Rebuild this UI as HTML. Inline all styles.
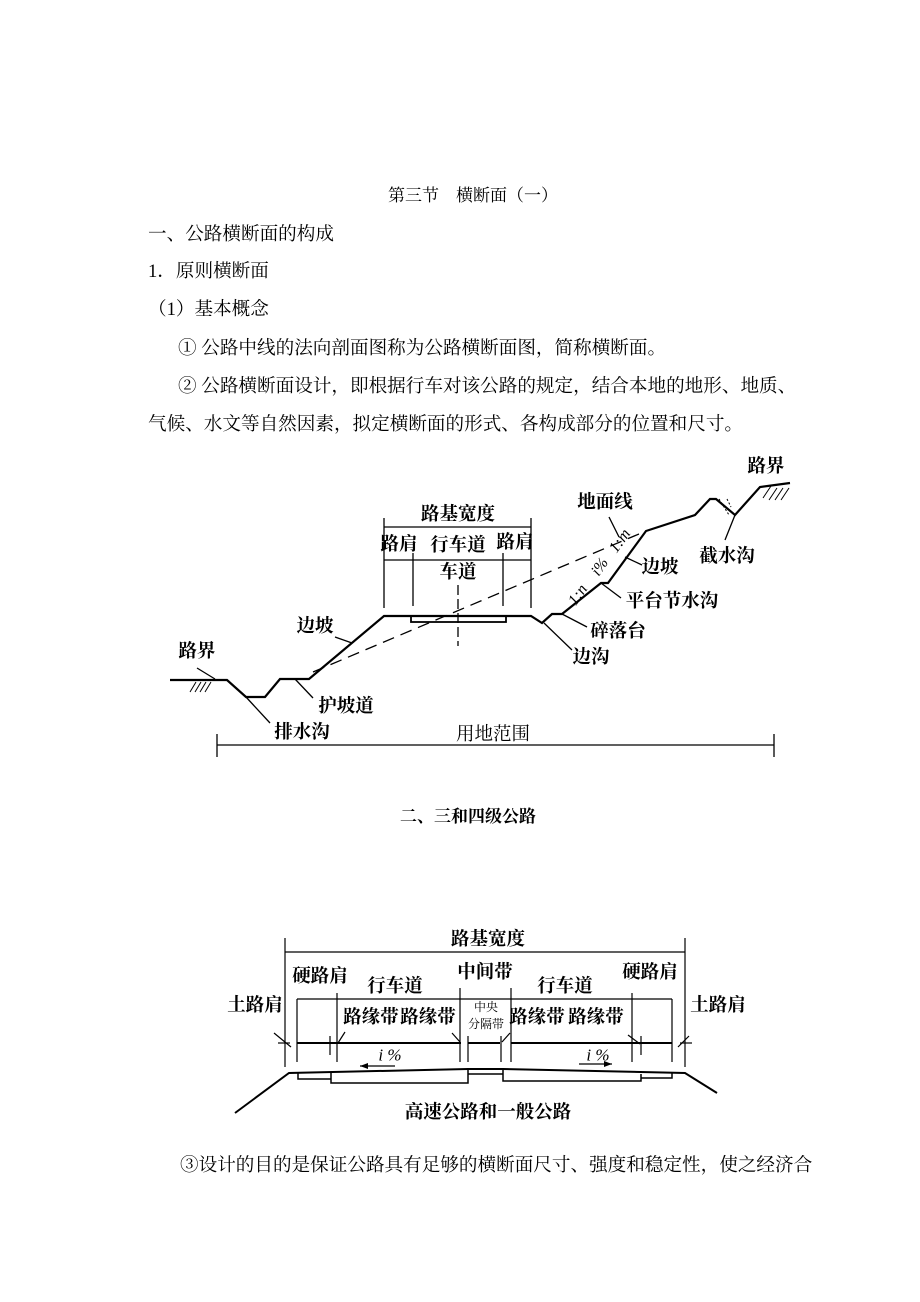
<!DOCTYPE html>
<html><head><meta charset="utf-8"><style>
html,body{margin:0;padding:0;background:#fff;}
svg{display:block;}
.b{font-family:"Liberation Serif","Noto Serif CJK SC",serif;font-size:18.6px;fill:#000;}
.d{font-family:"Liberation Serif","Noto Serif CJK SC",serif;font-size:18.5px;font-weight:bold;fill:#000;text-anchor:middle;dominant-baseline:central;}
</style></head><body>
<svg width="920" height="1302" viewBox="0 0 920 1302" xmlns="http://www.w3.org/2000/svg">
<g class="b">
<text x="388" y="201" font-size="17">第三节　横断面（一）</text>
<text x="148" y="240">一、公路横断面的构成</text>
<text x="148" y="277">1．原则横断面</text>
<text x="148" y="315">（1）基本概念</text>
<text x="178" y="354">①  公路中线的法向剖面图称为公路横断面图，简称横断面。</text>
<text x="178" y="392">②   公路横断面设计，即根据行车对该公路的规定，结合本地的地形、地质、</text>
<text x="148" y="430">气候、水文等自然因素，拟定横断面的形式、各构成部分的位置和尺寸。</text>
<text x="400" y="822" font-weight="bold" font-size="17">二、三和四级公路</text>
<text x="180" y="1171">③设计的目的是保证公路具有足够的横断面尺寸、强度和稳定性，使之经济合</text>
</g>

<!-- Diagram 1 -->
<g fill="none" stroke="#000" stroke-width="2.2">
<polyline points="170,680 227,680 246,697 265,697 280,679 309,679 384,616 531,616 542,623 552,614 562,614 601,583 608,583 646,531 695,515 710,499 716,499 735,515 760,487 790,483"/>
<rect x="411" y="616" width="95" height="6" stroke-width="1.8"/>
</g>
<g fill="none" stroke="#000" stroke-width="1.3">
<line x1="384" y1="518" x2="384" y2="608"/>
<line x1="531" y1="518" x2="531" y2="608"/>
<line x1="384" y1="527" x2="531" y2="527"/>
<line x1="384" y1="560" x2="531" y2="560"/>
<line x1="413" y1="553" x2="413" y2="606"/>
<line x1="503" y1="553" x2="503" y2="606"/>
<line x1="458" y1="585" x2="458" y2="646" stroke-dasharray="10,4"/>
<line x1="313" y1="672" x2="646" y2="531" stroke-dasharray="12,7"/>
<line x1="335" y1="637" x2="352" y2="643"/>
<line x1="197" y1="668" x2="215" y2="679"/>
<line x1="246" y1="697" x2="270" y2="723"/>
<line x1="295" y1="679" x2="313" y2="698"/>
<line x1="609" y1="517" x2="619" y2="537"/>
<line x1="625" y1="557" x2="642" y2="565"/>
<line x1="601" y1="583" x2="621" y2="598"/>
<line x1="562" y1="614" x2="587" y2="627"/>
<line x1="544" y1="623" x2="572" y2="650"/>
<line x1="735" y1="515" x2="725" y2="540"/>
<line x1="217" y1="745" x2="774" y2="745"/>
<line x1="217" y1="734" x2="217" y2="757"/>
<line x1="774" y1="734" x2="774" y2="757"/>
<path d="M190,692 l6,-10 M195,692 l6,-10 M200,692 l6,-10 M205,692 l6,-10" stroke-width="1"/>
<path d="M763,498 l8,-12 M769,500 l8,-12 M775,500 l8,-12 M781,500 l8,-12" stroke-width="1"/>
<path d="M719,499 l10,16 M727,499 l4,8" stroke-dasharray="2,2" stroke-width="1"/>
</g>
<g class="d">
<text x="458" y="515">路基宽度</text>
<text x="399" y="545">路肩</text>
<text x="458" y="546">行车道</text>
<text x="515" y="543">路肩</text>
<text x="458" y="573">车道</text>
<text x="315" y="627">边坡</text>
<text x="197" y="652">路界</text>
<text x="302" y="733">排水沟</text>
<text x="346" y="707">护坡道</text>
<text x="493" y="735" font-weight="normal">用地范围</text>
<text x="605" y="503">地面线</text>
<text x="660" y="568">边坡</text>
<text x="672" y="602">平台节水沟</text>
<text x="618" y="632">碎落台</text>
<text x="591" y="658">边沟</text>
<text x="727" y="557">截水沟</text>
<text x="766" y="467">路界</text>
<text x="578" y="595" font-size="16" font-style="italic" font-weight="normal" transform="rotate(-55 578 595)">1:n</text>
<text x="600" y="567" font-size="16" font-style="italic" font-weight="normal" transform="rotate(-55 600 567)">i%</text>
<text x="620" y="541" font-size="16" font-style="italic" font-weight="normal" transform="rotate(-55 620 541)">1:m</text>
</g>

<!-- Diagram 2 -->
<g fill="none" stroke="#000" stroke-width="1.2">
<line x1="285" y1="938" x2="285" y2="1067"/>
<line x1="685" y1="938" x2="685" y2="1067"/>
<line x1="285" y1="952" x2="685" y2="952"/>
<line x1="297" y1="999" x2="672" y2="999"/>
<line x1="297" y1="999" x2="297" y2="1062"/>
<line x1="672" y1="999" x2="672" y2="1062"/>
<line x1="330" y1="1036" x2="330" y2="1055"/>
<line x1="337" y1="993" x2="337" y2="1062"/>
<line x1="460" y1="988" x2="460" y2="1062"/>
<line x1="468" y1="1036" x2="468" y2="1062"/>
<line x1="501" y1="1036" x2="501" y2="1062"/>
<line x1="511" y1="988" x2="511" y2="1062"/>
<line x1="632" y1="993" x2="632" y2="1062"/>
<line x1="641" y1="1036" x2="641" y2="1055"/>
<line x1="278" y1="1043" x2="290" y2="1043"/>
<line x1="680" y1="1043" x2="692" y2="1043"/>
<line x1="274" y1="1033" x2="291" y2="1047"/>
<line x1="678" y1="1047" x2="689" y2="1036"/>
<line x1="338" y1="1043" x2="345" y2="1032"/>
<line x1="452" y1="1033" x2="460" y2="1042"/>
<line x1="502" y1="1042" x2="510" y2="1033"/>
<line x1="628" y1="1035" x2="640" y2="1044"/>
<line x1="360" y1="1066" x2="395" y2="1066"/>
<line x1="579" y1="1064" x2="612" y2="1064"/>
</g>
<g stroke="#000" stroke-width="2" fill="none">
<line x1="297" y1="1043" x2="461" y2="1043"/>
<line x1="468" y1="1043" x2="500" y2="1043"/>
<line x1="511" y1="1043" x2="672" y2="1043"/>
<polyline points="235,1113 289,1073 468,1069 503,1069 685,1073 717,1093"/>
<path d="M298,1073 v6 h33 v-6 M331,1075 v8 h137 v-14 M468,1069 v5 h35 v-5 M503,1070 v11 h138 v-7 M641,1074 v4 h31 v-5" stroke-width="1.5"/>
</g>
<path d="M360,1066 l8,-3 v6 z M612,1064 l-8,-3 v6 z" fill="#000"/>
<g class="d">
<text x="488" y="940">路基宽度</text>
<text x="320" y="977">硬路肩</text>
<text x="395" y="987">行车道</text>
<text x="485" y="973">中间带</text>
<text x="565" y="987">行车道</text>
<text x="650" y="973">硬路肩</text>
<text x="255" y="1006">土路肩</text>
<text x="718" y="1006">土路肩</text>
<text x="371" y="1018">路缘带</text>
<text x="428" y="1018">路缘带</text>
<text x="537" y="1018">路缘带</text>
<text x="596" y="1018">路缘带</text>
<text x="486" y="1007" font-size="12" font-weight="normal">中央</text>
<text x="486" y="1024" font-size="12" font-weight="normal">分隔带</text>
<text x="390" y="1055" font-size="17" font-weight="normal" font-style="italic">i %</text>
<text x="598" y="1055" font-size="17" font-weight="normal" font-style="italic">i %</text>
<text x="488" y="1113">高速公路和一般公路</text>
</g>
</svg>
</body></html>
